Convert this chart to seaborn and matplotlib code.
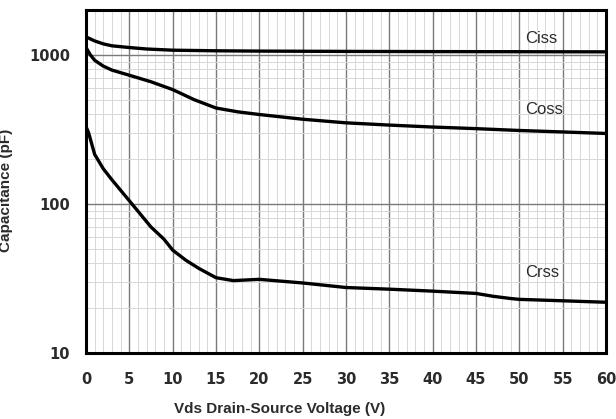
import matplotlib
matplotlib.use("Agg")
import matplotlib.pyplot as plt
import seaborn as sns
import pandas as pd
from matplotlib.ticker import FixedLocator, NullFormatter, FixedFormatter

sns.set_theme(style="white")
plt.rcParams['font.family'] = ['Liberation Sans', 'DejaVu Sans']

vds_ciss = [0, 1, 2, 3, 5, 7, 10, 15, 20, 30, 40, 50, 60]
ciss = [1320, 1240, 1185, 1150, 1120, 1095, 1075, 1065, 1060, 1055, 1052, 1050, 1048]

vds_coss = [0, 0.5, 1, 2, 3, 5, 7.5, 10, 12.5, 15, 17.5, 20, 25, 30, 35, 40, 45, 50, 55, 60]
coss = [1120, 1000, 920, 840, 790, 730, 660, 585, 500, 440, 415, 398, 370, 350, 338, 328, 320, 311, 304, 297]

vds_crss = [0, 0.3, 1, 2, 3, 5, 7.5, 9, 10, 11.5, 13, 15, 17, 20, 25, 30, 35, 40, 45, 47, 49, 50, 55, 60]
crss = [330, 300, 215, 172, 145, 105, 70, 58, 49, 42, 37, 32, 30.6, 31.2, 29.5, 27.5, 26.8, 26.0, 25.1, 24.0, 23.2, 22.9, 22.4, 21.9]

labels = ["Ciss", "Coss", "Crss"]
label_x = [50.65, 50.65, 50.65]
label_y = [1279, 430, 34.7]
x_ticks = list(range(0, 65, 5))
y_ticks = [10, 100, 1000]

fig = plt.figure(figsize=(6.16, 4.19), dpi=100)
ax = fig.add_axes([86/616, 1 - 353/419, 520/616, 343/419])

for xs, ys in [(vds_ciss, ciss), (vds_coss, coss), (vds_crss, crss)]:
    df = pd.DataFrame({"V": xs, "C": ys})
    sns.lineplot(data=df, x="V", y="C", ax=ax, color="black", linewidth=2.4, zorder=5)

ax.set_yscale("log")
ax.set_xlim(0, 60)
ax.set_ylim(10, 2000)

ax.xaxis.set_major_locator(FixedLocator(x_ticks))
ax.xaxis.set_minor_locator(FixedLocator(list(range(0, 61, 1))))
ax.yaxis.set_major_locator(FixedLocator(y_ticks))
ax.yaxis.set_major_formatter(FixedFormatter([str(t) for t in y_ticks]))
minor_y = [m * d for d in (10, 100, 1000) for m in range(2, 10) if m * d <= 2000]
ax.yaxis.set_minor_locator(FixedLocator(minor_y))
ax.yaxis.set_minor_formatter(NullFormatter())

ax.grid(which="major", color="#7a7a7a", linewidth=1.0)
ax.grid(which="minor", color="#d8d8d8", linewidth=0.7)
ax.set_axisbelow(True)

for s in ax.spines.values():
    s.set_color("black")
    s.set_linewidth(2.2)
    s.set_visible(True)

ax.tick_params(axis="both", which="both", length=0, labelcolor="#2b2b2b")
ax.tick_params(axis="x", pad=13.5, labelsize=10.5)
ax.tick_params(axis="y", pad=11.5, labelsize=10.5)
for lbl in ax.get_xticklabels() + ax.get_yticklabels():
    lbl.set_fontweight("bold")
    lbl.set_family(["DejaVu Sans"])

ax.set_xlabel("Vds Drain-Source Voltage (V)", fontsize=11, fontweight="bold", color="#2b2b2b")
ax.xaxis.set_label_coords(0.373, -0.143)
ax.set_ylabel("Capacitance (pF)", fontsize=11, fontweight="bold", color="#2b2b2b")
ax.yaxis.set_label_coords(-0.14, 0.475)

for t, lx, ly in zip(labels, label_x, label_y):
    ax.text(lx, ly, t, fontsize=12, color="#2b2b2b", va="center", ha="left", zorder=6)

fig.savefig("out.png", dpi=100)
